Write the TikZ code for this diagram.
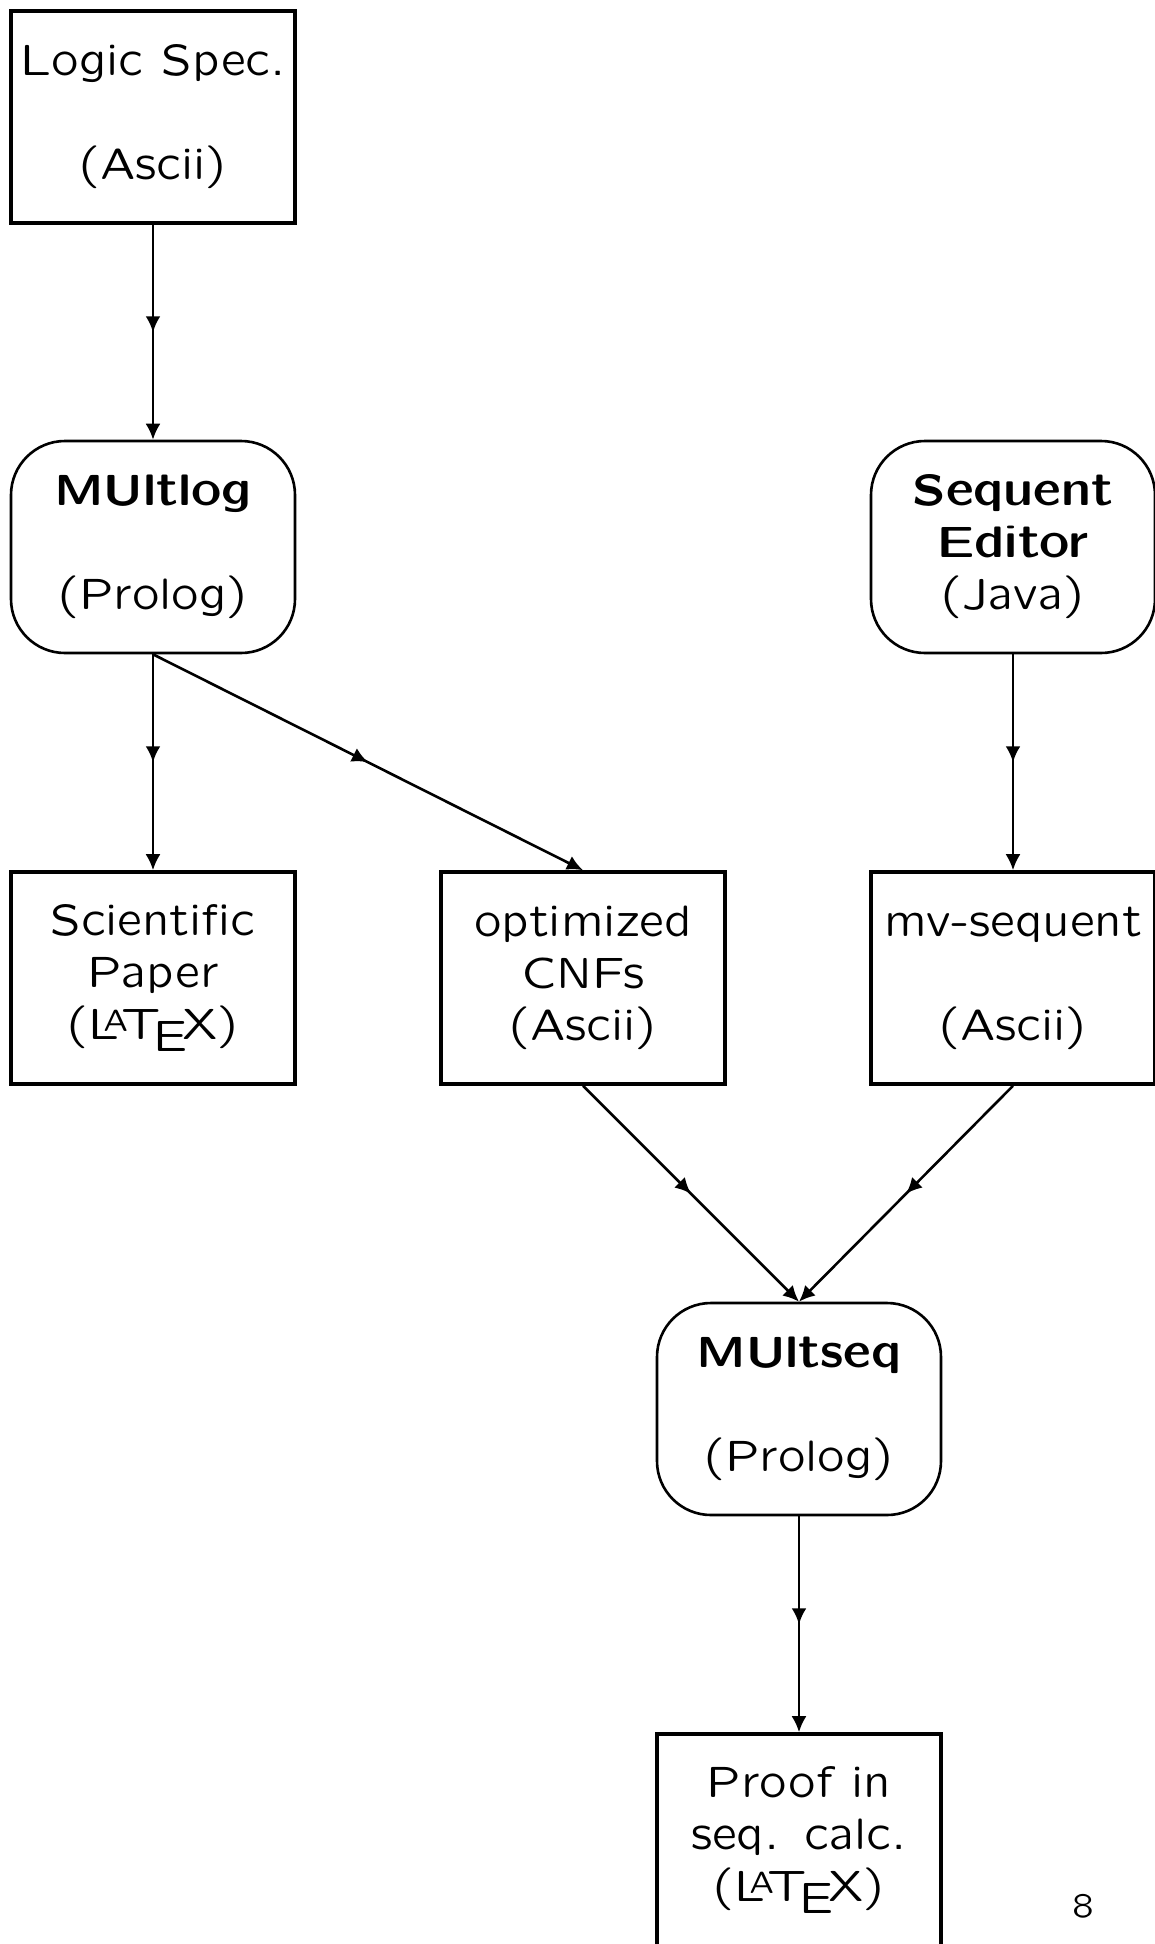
\documentclass[tikz,border=0pt]{standalone}
\usepackage{fontspec}
\usepackage{tikz}
\usetikzlibrary{arrows.meta,decorations.markings}
\newfontfamily\slfam{lmsansquot8-regular.otf}[BoldFont=lmsansquot8-bold.otf]
\newcommand\slfont{\slfam\fontsize{22}{26}\selectfont}
\newcommand\pgfont{\slfam\fontsize{17}{20}\selectfont}
\tikzset{
  >={Latex[length=8pt,width=7.5pt]},
  box/.style={draw,line width=1.8pt,minimum width=142pt,minimum height=106pt,inner sep=0pt,align=center,font=\slfont},
  rbox/.style={box,line width=1.3pt,rounded corners=27pt},
  arr/.style={->,line width=1.3pt,decoration={markings,mark=at position 0.5 with {\arrow{>}}},postaction={decorate}},
}
\begin{document}
\begin{tikzpicture}[x=0.5pt,y=-0.5pt]
\useasboundingbox (0,0) rectangle (1155,1944);
\node[box] (spec) at (153,117) {Logic Spec.\\\mbox{}\\(Ascii)};
\node[rbox] (mlog) at (153,547) {\textbf{MUltlog}\\\mbox{}\\(Prolog)};
\node[rbox] (sed) at (1013,547) {\textbf{Sequent}\\\textbf{Editor}\\(Java)};
\node[box] (paper) at (153,978) {Scientific\\Paper\\(\LaTeX)};
\node[box] (cnf) at (583,978) {optimized\\CNFs\\(Ascii)};
\node[box] (mvs) at (1013,978) {mv-sequent\\\mbox{}\\(Ascii)};
\node[rbox] (mseq) at (799,1409) {\textbf{MUltseq}\\\mbox{}\\(Prolog)};
\node[box] (proof) at (799,1840) {Proof in\\seq. calc.\\(\LaTeX)};
\node[font=\pgfont] (pg) at (1083,1906) {8};
\draw[arr] (spec)--(mlog);
\draw[arr] (mlog.south)--(paper.north);
\draw[arr] (mlog.south)--(cnf.north);
\draw[arr] (sed)--(mvs);
\draw[arr] (cnf.south)--(mseq.north);
\draw[arr] (mvs.south)--(mseq.north);
\draw[arr] (mseq)--(proof);
\end{tikzpicture}
\end{document}
